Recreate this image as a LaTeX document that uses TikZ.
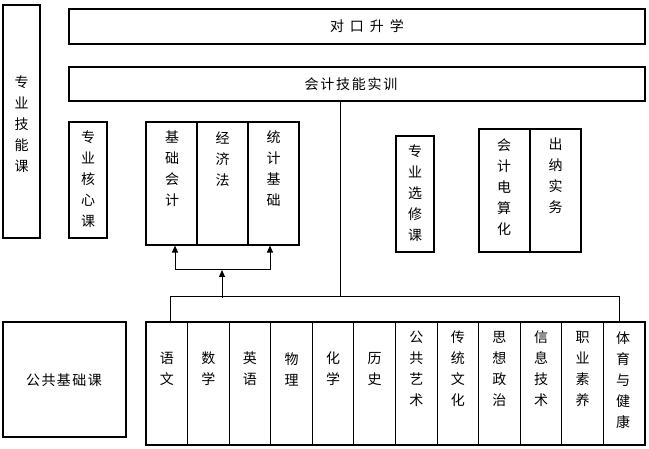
\documentclass[tikz,border=0pt]{standalone}
\usepackage{fontspec}
\newfontfamily\cjk{Noto Sans CJK SC}
\usetikzlibrary{arrows.meta}
\begin{document}
\begin{tikzpicture}[x=1pt,y=-1pt,
  box/.style={draw, line width=1.1pt, inner sep=0pt, rectangle},
  lbl/.style={font=\cjk\fontsize{14}{21}\selectfont, align=center, inner sep=0pt},
  conn/.style={line width=1pt},
  arr/.style={line width=1pt, -{Triangle[length=7pt,width=6pt]}}]
\useasboundingbox[fill=white] (0,0) rectangle (649,449);

% top boxes
\node[box, minimum width=37pt, minimum height=233pt] (skill) at (21.5,121.5) {};
\node[lbl] (tskill) at (21.5,124) {专\\业\\技\\能\\课};
\node[box, minimum width=576pt, minimum height=35pt] (exam) at (357,26.5) {};
\node[lbl] (texam) at (367,26.5) {对\kern6pt口\kern6pt升\kern6pt学};
\node[box, minimum width=576pt, minimum height=34pt] (train) at (357,84) {};
\node[lbl] (ttrain) at (351,84) {会\kern1.8pt计\kern1.8pt技\kern1.8pt能\kern1.8pt实\kern1.8pt训};

\node[box, minimum width=38pt, minimum height=116pt] (core) at (88,180) {};
\node[lbl] (tcore) at (88,179) {专\\业\\核\\心\\课};

\node[box, minimum width=51pt, minimum height=123pt] (g1) at (171.5,183.5) {};
\node[box, minimum width=51pt, minimum height=123pt] (g2) at (222.5,183.5) {};
\node[box, minimum width=51pt, minimum height=123pt] (g3) at (273.5,183.5) {};
\node[lbl] (tg1) at (172,169) {基\\础\\会\\计};
\node[lbl] (tg2) at (222.5,159) {经\\济\\法};
\node[lbl] (tg3) at (273.5,169) {统\\计\\基\\础};

\node[box, minimum width=38pt, minimum height=116pt] (elect) at (415,194) {};
\node[lbl] (telect) at (415,193.5) {专\\业\\选\\修\\课};

\node[box, minimum width=51pt, minimum height=123pt] (e1) at (504.5,190.5) {};
\node[box, minimum width=51pt, minimum height=123pt] (e2) at (555.5,190.5) {};
\node[lbl] (te1) at (504,187) {会\\计\\电\\算\\化};
\node[lbl] (te2) at (555.5,176) {出\\纳\\实\\务};

% bottom
\node[box, minimum width=123pt, minimum height=115pt] (pub) at (64.5,379.5) {};
\node[lbl] (tpub) at (64,380) {公\kern1.4pt共\kern1.4pt基\kern1.4pt础\kern1.4pt课};

\node[box, minimum width=41.58pt, minimum height=123pt] (c1) at (166.79,383.5) {};
\node[box, minimum width=41.58pt, minimum height=123pt] (c2) at (208.38,383.5) {};
\node[box, minimum width=41.58pt, minimum height=123pt] (c3) at (249.96,383.5) {};
\node[box, minimum width=41.58pt, minimum height=123pt] (c4) at (291.54,383.5) {};
\node[box, minimum width=41.58pt, minimum height=123pt] (c5) at (333.13,383.5) {};
\node[box, minimum width=41.58pt, minimum height=123pt] (c6) at (374.71,383.5) {};
\node[box, minimum width=41.58pt, minimum height=123pt] (c7) at (416.29,383.5) {};
\node[box, minimum width=41.58pt, minimum height=123pt] (c8) at (457.88,383.5) {};
\node[box, minimum width=41.58pt, minimum height=123pt] (c9) at (499.46,383.5) {};
\node[box, minimum width=41.58pt, minimum height=123pt] (c10) at (541.04,383.5) {};
\node[box, minimum width=41.58pt, minimum height=123pt] (c11) at (582.63,383.5) {};
\node[box, minimum width=41.58pt, minimum height=123pt] (c12) at (624.21,383.5) {};

\node[lbl] (tc1) at (166.79,369) {语\\文};
\node[lbl] (tc2) at (208.38,369) {数\\学};
\node[lbl] (tc3) at (249.96,369) {英\\语};
\node[lbl] (tc4) at (291.54,369) {物\\理};
\node[lbl] (tc5) at (333.13,369) {化\\学};
\node[lbl] (tc6) at (374.71,369) {历\\史};
\node[lbl] (tc7) at (416.29,369) {公\\共\\艺\\术};
\node[lbl] (tc8) at (457.88,369) {传\\统\\文\\化};
\node[lbl] (tc9) at (499.46,369) {思\\想\\政\\治};
\node[lbl] (tc10) at (541.04,369) {信\\息\\技\\术};
\node[lbl] (tc11) at (582.63,369) {职\\业\\素\\养};
\node[lbl] (tc12) at (623,380) {体\\育\\与\\健\\康};

% connectors
\coordinate (j) at (340,297);
\coordinate (jl) at (170,297);
\coordinate (jr) at (619,297);
\draw[conn] (train.south -| j) -- (j);
\draw[conn] (jl |- c1.north) -- (jl) -- (jr) -- (jr |- c12.north);
\coordinate (a0) at (222,298);
\coordinate (am) at (222,270);
\coordinate (al) at (175,270);
\coordinate (ar) at (270,270);
\draw[arr] (a0) -- (am);
\draw[conn] (al) -- (ar);
\draw[arr] (al) -- (al |- g1.south);
\draw[arr] (ar) -- (ar |- g3.south);
\end{tikzpicture}
\end{document}
